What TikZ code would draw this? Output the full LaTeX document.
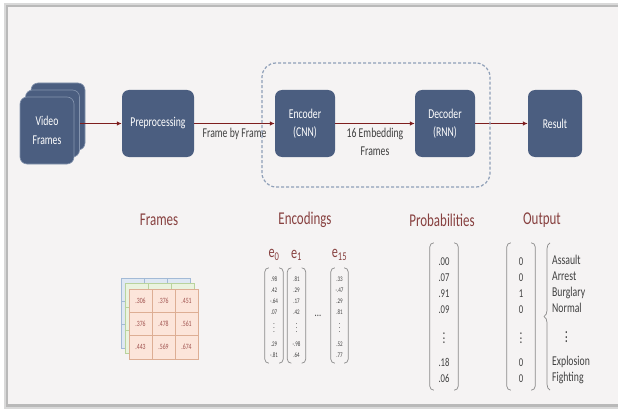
\documentclass[tikz,border=0pt]{standalone}
\usepackage{fontspec}
\setmainfont{Carlito}[FakeStretch=0.72]
\usetikzlibrary{arrows.meta,calc,positioning,decorations.pathreplacing}

\definecolor{slate}{HTML}{4B5E80}
\definecolor{slateedge}{HTML}{8494AE}
\definecolor{arrowred}{HTML}{7E1E1E}
\definecolor{headred}{HTML}{87403F}
\definecolor{grpline}{HTML}{8FA0B8}
\definecolor{cellpink}{HTML}{FCE5DA}
\definecolor{cellline}{HTML}{DDAE94}
\definecolor{gridgreen}{HTML}{EAF3DF}
\definecolor{greenline}{HTML}{B9D39D}
\definecolor{gridblue}{HTML}{DFE8F3}
\definecolor{blueline}{HTML}{A3BAD6}
\definecolor{celltext}{HTML}{A0524F}
\definecolor{vectext}{HTML}{404040}
\definecolor{parenline}{HTML}{8A8A8A}
\definecolor{slidebg}{HTML}{F5F3F3}

% vertical dots made of the text font's full stops
\newcommand{\vdts}[1]{\vbox{\baselineskip#1\lineskiplimit0pt\hbox{\bfseries.}\hbox{\bfseries.}\hbox{\bfseries.}}}

\begin{document}
\begin{tikzpicture}[
  x=1pt,y=-1pt,
  >=Latex,
  block/.style={fill=slate,rounded corners=7pt,minimum height=67pt,align=center,
    text=white,inner sep=2pt,font=\fontsize{13.5}{18.5}\selectfont},
  stack/.style={block,draw=slateedge,line width=0.6pt,minimum width=54pt},
  flow/.style={-{Latex[length=5pt,width=4.5pt]},line width=1.3pt,draw=arrowred},
  edgelbl/.style={align=center,text=vectext,inner sep=1pt,font=\fontsize{13.5}{18}\selectfont},
  group/.style={draw=grpline,dashed,dash pattern=on 3pt off 2pt,line width=1.2pt,
    rounded corners=14pt,minimum width=228pt,minimum height=124pt},
  header/.style={text=headred,font=\fontsize{18}{20}\selectfont},
  cell/.style={draw=cellline,fill=cellpink,line width=0.5pt,minimum width=23pt,
    minimum height=23.3pt,inner sep=0pt,text=celltext,font=\fontsize{8}{8}\selectfont},
  vec/.style={align=center,inner sep=0pt,text=vectext,font=\fontsize{7}{10.8}\selectfont,
    minimum width=18pt,minimum height=95pt},
  bigvec/.style={vec,font=\fontsize{12}{16}\selectfont,minimum width=28pt,minimum height=147pt},
  elabel/.style={text=headred,inner sep=1pt,font=\fontsize{17}{17}\selectfont},
  paren/.style={draw=parenline,line width=0.7pt,rounded corners=4pt},
  brace/.style={draw=parenline,line width=0.7pt,decorate,decoration={brace,amplitude=6pt}}
]
  \useasboundingbox (0,0) rectangle (618,409);
  % slide background
  \fill[white] (0,0) rectangle (618,409);
  \fill[gray!30] (4,3) rectangle (620,409);
  \fill[gray!55] (6,5) rectangle (620,407);
  \fill[slidebg] (8,7) rectangle (620,404);

  % pipeline
  \node[stack] (vf3) at (58,116.5) {};
  \node[stack] (vf2) at (52.5,123.5) {};
  \node[stack] (vf1) at (47,130.5) {Video\\Frames};
  \node[block,minimum width=72pt] (pre) at (158,123.5) {Preprocessing};
  \node[block,minimum width=60pt] (enc) at (305,123.5) {Encoder\\(CNN)};
  \node[block,minimum width=60pt] (dec) at (445,123.5) {Decoder\\(RNN)};
  \node[block,minimum width=54pt] (res) at (555,123.5) {Result};

  \draw[flow] (vf2.east) -- (pre.west);
  \draw[flow] (pre.east) -- node[edgelbl,below=3pt] {Frame by Frame} (enc.west);
  \draw[flow] (enc.east) -- node[edgelbl,below=3pt] {16 Embedding\\Frames} (dec.west);
  \draw[flow] (dec.east) -- (res.west);
  \node[group] (grp) at (376,125) {};

  % headers
  \node[header] (hframes) at (159,220) {Frames};
  \node[header] (henc) at (305,220) {Encodings};
  \node[header] (hprob) at (442,220) {Probabilities};
  \node[header] (hout) at (542,220) {Output};

  % frames: two grids behind, one in front
  \foreach \dx/\dy/\fc/\lc in {-8/-11/gridblue/blueline,-4/-5.5/gridgreen/greenline}{
    \draw[draw=\lc,fill=\fc,line width=0.5pt] ({129+(\dx)},{289+(\dy)}) rectangle +(69,70);
    \foreach \k in {1,2}{
      \draw[draw=\lc,line width=0.5pt] ({129+(\dx)+23*\k},{289+(\dy)}) -- +(0,70);
      \draw[draw=\lc,line width=0.5pt] ({129+(\dx)},{289+(\dy)+23.3*\k}) -- +(69,0);
    }
  }
  \foreach \val [count=\i from 0] in {.306,.376,.451,.376,.478,.561,.443,.569,.674}{
    \pgfmathtruncatemacro{\gr}{div(\i,3)}
    \pgfmathtruncatemacro{\gc}{mod(\i,3)}
    \node[cell] (cell\i) at ({129+23*(\gc+0.5)},{289+23.3*(\gr+0.5)}) {\val};
  }

  % encodings
  \node[vec] (e0) at (274,315.5) {\rule{0pt}{8pt}.98\\.42\\-.64\\.07\\[8pt]\vdts{4pt}\\[2.6pt].29\\-.81};
  \node[vec] (e1) at (296.5,315.5) {\rule{0pt}{8pt}.81\\.29\\.17\\.42\\[8pt]\vdts{4pt}\\[2.6pt]-.98\\.64};
  \node[vec,minimum width=17pt] (e15) at (339.5,315.5) {\rule{0pt}{8pt}.33\\-.47\\.29\\.81\\[8pt]\vdts{4pt}\\[2.6pt].52\\.77};
  \node[text=vectext,font=\fontsize{12}{12}\selectfont] (edots) at ($(e1)!0.5!(e15)$) {...};
  \node[elabel,above=6pt of e0] (le0) {e\textsubscript{0}};
  \node[elabel,above=6pt of e1] (le1) {e\textsubscript{1}};
  \node[elabel,above=6pt of e15] (le15) {e\textsubscript{15}};

  % probabilities and output
  \node[bigvec] (prob) at (444,316.5) {\rule{0pt}{15.6pt}.00\\.07\\.91\\.09\\[14pt]\vdts{4.5pt}\\[7pt].18\\.06};
  \node[bigvec] (outv) at (521,316.5) {\rule{0pt}{15.6pt}0\\0\\1\\0\\[14pt]\vdts{4.5pt}\\[7pt]0\\0};
  \node[align=left,anchor=west,inner sep=0pt,minimum height=147pt,text=vectext,
    font=\fontsize{13.5}{16}\selectfont] (lbl) at (552,316.5)
    {\rule{0pt}{15.6pt}Assault\\Arrest\\Burglary\\Normal\\[14pt]\hspace*{13pt}\vdts{4.5pt}\\[7pt]Explosion\\Fighting};

  \foreach \v in {e0,e1,e15,prob,outv}{
    \draw[paren] ([xshift=4pt]\v.north west) -- (\v.north west) -- (\v.south west) -- ([xshift=4pt]\v.south west);
    \draw[paren] ([xshift=-4pt]\v.north east) -- (\v.north east) -- (\v.south east) -- ([xshift=-4pt]\v.south east);
  }
  \draw[brace] ([xshift=-2pt]lbl.south west) -- ([xshift=-2pt]lbl.north west);
\end{tikzpicture}
\end{document}
